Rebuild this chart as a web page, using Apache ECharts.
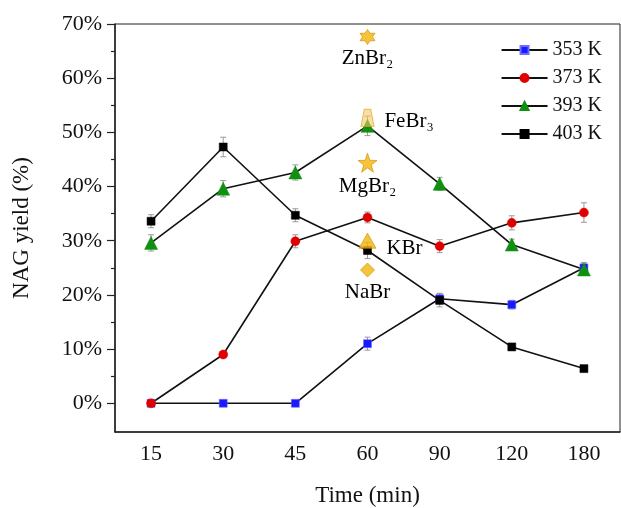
<!DOCTYPE html>
<html><head><meta charset="utf-8">
<script src="https://cdn.jsdelivr.net/npm/echarts@6/dist/echarts.min.js"></script>
<style>html,body{margin:0;padding:0;background:#fff}#c{width:621px;height:508px}</style>
</head><body><div id="c"></div>
<script>
const times = ['15','30','45','60','90','120','180'];
const yTicks = [0,10,20,30,40,50,60,70];
const yMinorTicks = [5,15,25,35,45,55,65];
const seriesNames = ['353 K','373 K','393 K','403 K'];
const y353 = [0,0,0,11.0,19.3,18.2,25.0];
const y373 = [0,9.0,29.9,34.3,29.0,33.3,35.2];
const y393 = [29.6,39.6,42.6,51.2,40.5,29.3,24.7];
const y403 = [33.6,47.3,34.7,28.2,19.0,10.4,6.4];
const e353 = [0,0,0,1.2,1.0,0.8,1.0];
const e373 = [0,0.5,1.2,1.0,1.2,1.3,1.8];
const e393 = [1.5,1.5,1.4,1.8,1.2,1.0,1.0];
const e403 = [1.2,1.8,1.2,1.5,1.2,0.6,0.5];
const catalysts = ['ZnBr₂','FeBr₃','MgBr₂','KBr','NaBr'];
const catalystTime = '60';
const catalystYield = [67.6,52.7,44.4,30.0,24.6];

const FONT = '"Liberation Serif","Times New Roman",serif';
const chart = echarts.init(document.getElementById('c'));
const colors = ['#1a1aff','#e00000','#109010','#000000'];
const symbols = ['rect','circle','triangle','rect'];
const sizes = [8,9,13,8];
const vals = [y353,y373,y393,y403];
const errs = [e353,e373,e393,e403];

const hexagram = 'path://M0,-10 L2.9,-5 L8.66,-5 L5.77,0 L8.66,5 L2.9,5 L0,10 L-2.9,5 L-8.66,5 L-5.77,0 L-8.66,-5 L-2.9,-5 Z';
const star5 = 'path://M0,-10 L2.35,-3.24 L9.51,-3.09 L3.80,1.24 L5.88,8.09 L0,4 L-5.88,8.09 L-3.80,1.24 L-9.51,-3.09 L-2.35,-3.24 Z';
const trap = 'path://M-3,-8 L3,-8 L6,8 L-6,8 Z';
const catSym = [hexagram, trap, star5, 'triangle', 'diamond'];
const catSize = [[15,15],[13,17],[19,19],[17,15],[14,14]];
const catPos = ['bottom','right','bottom','right','bottom'];
const catOffset = [[0,0],[0,4],[0,0],[0,8],[0,2]];

const errSeries = vals.map((v,si)=>({
  type:'custom', xAxisIndex:0, yAxisIndex:0, z:1, silent:true,
  data: v.map((y,i)=>[i,y,errs[si][i]]),
  renderItem(params, api){
    const x = api.value(0), y = api.value(1), e = api.value(2);
    if (!e) return null;
    const top = api.coord([x, y+e]), bot = api.coord([x, y-e]);
    const st = {stroke:'#999', lineWidth:1};
    return {type:'group', children:[
      {type:'line', shape:{x1:top[0],y1:top[1],x2:bot[0],y2:bot[1]}, style:st},
      {type:'line', shape:{x1:top[0]-3,y1:top[1],x2:top[0]+3,y2:top[1]}, style:st},
      {type:'line', shape:{x1:bot[0]-3,y1:bot[1],x2:bot[0]+3,y2:bot[1]}, style:st}
    ]};
  }
}));

const lineSeries = vals.map((v,si)=>({
  name: seriesNames[si], type:'line', xAxisIndex:0, yAxisIndex:0, z:3,
  data: v, symbol: symbols[si], symbolSize: sizes[si], showAllSymbol:true,
  lineStyle:{color:'#111', width:1.6},
  itemStyle:{color: colors[si], borderColor: si===0 ? '#6a6aff' : colors[si], borderWidth: 0.5}
}));

const catSeries = {
  type:'scatter', xAxisIndex:0, yAxisIndex:0, z:5,
  emphasis:{disabled:true},
  label:{show:true, color:'#000', fontFamily:FONT, fontSize:21, opacity:1, textBorderWidth:0},
  data: catalysts.map((n,i)=>({
    value:[catalystTime, catalystYield[i]], name:n,
    symbol: catSym[i], symbolSize: catSize[i],
    itemStyle: i===1 ? {color:'rgba(247,200,100,0.75)', borderColor:'#e0a830', borderWidth:1}
                     : {color:'#f5b40a', borderColor:'#c98e00', borderWidth:0.8},
    label:{show:true, formatter:n, position:catPos[i], distance: catPos[i]==='right'?10:3,
      offset:catOffset[i], fontFamily:FONT, fontSize:21, color:'#000', textBorderWidth:0}
  }))
};

chart.setOption({
  animation:false,
  grid:{left:115, right:1, top:24, bottom:76, outerBoundsMode:'none', containLabel:false,
        show:true, borderColor:'#222', borderWidth:1},
  legend:{data:seriesNames, orient:'vertical', right:14, top:35, itemWidth:46, itemHeight:10, itemGap:8,
    textStyle:{fontFamily:FONT, fontSize:20, color:'#111'}},
  xAxis:[
    {type:'category', data:times, boundaryGap:true, name:'Time (min)', nameLocation:'middle', nameGap:52,
     nameTextStyle:{fontFamily:FONT, fontSize:23, color:'#111'},
     axisLine:{onZero:false, lineStyle:{color:'#222', width:1.5}},
     axisTick:{alignWithLabel:true, length:7, lineStyle:{color:'#222', width:1.2}},
     axisLabel:{fontFamily:FONT, fontSize:22, color:'#111', margin:11}},
    {type:'category', data:times, boundaryGap:true, position:'bottom',
     axisLine:{show:false, onZero:false}, axisLabel:{show:false},
     axisTick:{alignWithLabel:false, length:4, lineStyle:{color:'#222', width:1.2}}}
  ],
  yAxis:[
    {type:'value', min:-5.3, max:70, name:'NAG yield (%)', nameLocation:'middle', nameGap:82,
     nameTextStyle:{fontFamily:FONT, fontSize:23, color:'#111'},
     splitLine:{show:false},
     axisLine:{show:true, onZero:false, lineStyle:{color:'#222', width:1.5}},
     axisTick:{show:true, length:8, customValues:yTicks, lineStyle:{color:'#222', width:1.2}},
     axisLabel:{customValues:yTicks, formatter:'{value}%', fontFamily:FONT, fontSize:22, color:'#111', margin:13}},
    {type:'value', min:-5.3, max:70, position:'left', splitLine:{show:false},
     axisLine:{show:false, onZero:false}, axisLabel:{show:false},
     axisTick:{show:true, length:4, customValues:yMinorTicks, lineStyle:{color:'#222', width:1.2}}}
  ],
  series:[...errSeries, ...lineSeries, catSeries]
});
</script></body></html>
